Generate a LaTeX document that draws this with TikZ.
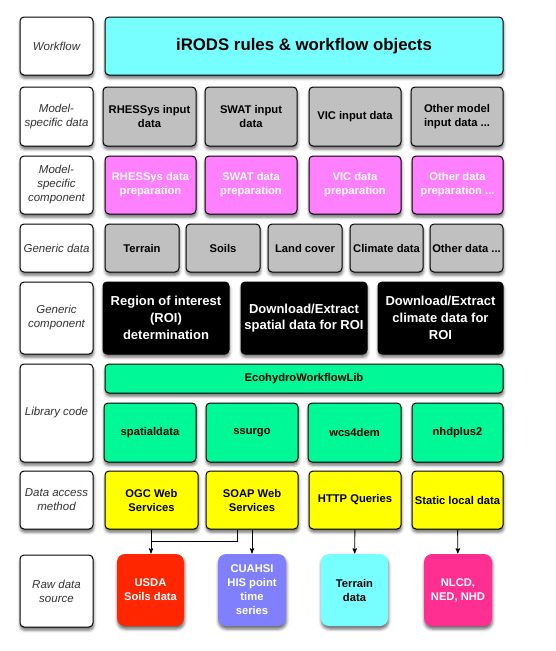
\documentclass[tikz,border=0pt]{standalone}
\usepackage{fontspec}
\setmainfont{Liberation Sans}
\usepackage{tikz}
\usetikzlibrary{arrows, positioning, shadows.blur}
\definecolor{colorWorkflow}{HTML}{77FFFF}
\definecolor{colorModelData}{HTML}{C0C0C0}
\definecolor{colorModelComp}{HTML}{FF80FF}
\definecolor{colorLibrary}{HTML}{00F996}
\definecolor{colorAccess}{HTML}{FFFF00}
\definecolor{colorUSDA}{HTML}{FF2600}
\definecolor{colorCUAHSI}{HTML}{8080FF}
\definecolor{colorTerrain}{HTML}{77FFFF}
\definecolor{colorNLCD}{HTML}{FF2F92}

\begin{document}
\begin{tikzpicture}[x=1pt, y=-1pt, >=stealth', thick, cellbox/.style={draw, rounded corners=4pt, line width=1pt, align=center, inner sep=2pt, font=\bfseries\fontsize{11.2}{14}\selectfont, blur shadow={shadow xshift=0.5pt, shadow yshift=-3pt, shadow blur radius=3pt, shadow opacity=60}}, rowlabel/.style={cellbox, fill=white, minimum width=73pt, font=\itshape\fontsize{11.5}{14}\selectfont, text=black!80}, bigbox/.style={cellbox, text=white, font=\bfseries\fontsize{13}{16.7}\selectfont}, sourcebox/.style={cellbox, draw=none, rounded corners=8pt, minimum width=67pt, minimum height=72pt}, link/.style={line width=0.9pt}]
\useasboundingbox (0,0) rectangle (556,651);
\node[rowlabel, minimum height=58pt] (lworkflow) at (56.5,46) {Workflow};
\node[rowlabel, minimum height=59pt] (lmodeldata) at (56.5,116.5) {Model-\\specific data};
\node[rowlabel, minimum height=58pt] (lmodelcomp) at (56.5,185) {Model-\\specific\\component};
\node[rowlabel, minimum height=48pt] (lgenericdata) at (56.5,248) {Generic data};
\node[rowlabel, minimum height=72pt] (lgenericcomp) at (56.5,318) {Generic\\component};
\node[rowlabel, minimum height=98pt] (llibrary) at (56.5,413) {Library code};
\node[rowlabel, minimum height=58pt] (laccess) at (56.5,500) {Data access\\method};
\node[rowlabel, minimum height=72pt] (lsource) at (56.5,591) {Raw data\\source};
\node[cellbox, fill=colorWorkflow, minimum width=398pt, minimum height=58pt, font=\bfseries\fontsize{16.8}{20}\selectfont] (irods) at (304,46) {iRODS rules \& workflow objects};
\node[cellbox, fill=colorModelData, minimum width=93pt, minimum height=59pt] (rhessysin) at (149.5,116.5) {RHESSys input\\data};
\node[cellbox, fill=colorModelData, minimum width=92pt, minimum height=59pt] (swatin) at (251,116.5) {SWAT input\\data};
\node[cellbox, fill=colorModelData, minimum width=92pt, minimum height=59pt] (vicin) at (355,116.5) {VIC input data};
\node[cellbox, fill=colorModelData, minimum width=92pt, minimum height=59pt] (otherin) at (457,116.5) {Other model\\input data ...};
\node[cellbox, fill=colorModelComp, text=white, minimum width=91pt, minimum height=58pt] (rhessysprep) at (150.5,185) {RHESSys data\\preparation};
\node[cellbox, fill=colorModelComp, text=white, minimum width=92pt, minimum height=58pt] (swatprep) at (251,185) {SWAT data\\preparation};
\node[cellbox, fill=colorModelComp, text=white, minimum width=92pt, minimum height=58pt] (vicprep) at (355,185) {VIC data\\preparation};
\node[cellbox, fill=colorModelComp, text=white, minimum width=91pt, minimum height=58pt] (otherprep) at (457.5,185) {Other data\\preparation ...};
\node[cellbox, fill=colorModelData, minimum width=74pt, minimum height=48pt] (terrain) at (142,248) {Terrain};
\node[cellbox, fill=colorModelData, minimum width=74pt, minimum height=48pt] (soils) at (223,248) {Soils};
\node[cellbox, fill=colorModelData, minimum width=74pt, minimum height=48pt] (landcover) at (305,248) {Land cover};
\node[cellbox, fill=colorModelData, minimum width=73pt, minimum height=48pt] (climate) at (386.5,248) {Climate data};
\node[cellbox, fill=colorModelData, minimum width=73pt, minimum height=48pt] (otherdata) at (466.5,248) {Other data ...};
\node[bigbox, fill=black, minimum width=126pt, minimum height=72pt] (roi) at (166,318) {Region of interest\\(ROI)\\determination};
\node[bigbox, fill=black, minimum width=126pt, minimum height=72pt] (spatialdl) at (304,318) {Download/Extract\\spatial data for ROI};
\node[bigbox, fill=black, minimum width=125pt, minimum height=72pt] (climatedl) at (440.5,318) {Download/Extract\\climate data for\\ROI};
\node[cellbox, fill=colorLibrary, minimum width=398pt, minimum height=29pt] (ecolib) at (304,378.5) {EcohydroWorkflowLib};
\node[cellbox, fill=colorLibrary, minimum width=92pt, minimum height=59pt] (spatialdata) at (150,432.5) {spatialdata};
\node[cellbox, fill=colorLibrary, minimum width=92pt, minimum height=59pt] (ssurgo) at (252,432.5) {ssurgo};
\node[cellbox, fill=colorLibrary, minimum width=93pt, minimum height=59pt] (wcs4dem) at (354.5,432.5) {wcs4dem};
\node[cellbox, fill=colorLibrary, minimum width=91pt, minimum height=59pt] (nhdplus2) at (457.5,432.5) {nhdplus2};
\node[cellbox, fill=colorAccess, minimum width=93pt, minimum height=58pt] (ogc) at (151.5,500) {OGC Web\\Services};
\node[cellbox, fill=colorAccess, minimum width=92pt, minimum height=58pt] (soap) at (252,500) {SOAP Web\\Services};
\node[cellbox, fill=colorAccess, minimum width=92pt, minimum height=58pt] (http) at (355,500) {HTTP Queries};
\node[cellbox, fill=colorAccess, minimum width=91pt, minimum height=58pt] (static) at (457.5,500) {Static local data};
\node[sourcebox, fill=colorUSDA, text=white] (usda) at (150.5,590) {USDA\\Soils data};
\node[sourcebox, fill=colorCUAHSI, text=white, minimum width=68pt] (cuahsi) at (252,590) {CUAHSI\\HIS point\\time\\series};
\node[sourcebox, fill=colorTerrain] (terraindata) at (354.5,590) {Terrain\\data};
\node[sourcebox, fill=colorNLCD, text=white, minimum width=68pt] (nlcd) at (458,590) {NLCD,\\NED, NHD};
\coordinate (merge) at (151,541);
\draw [->, link] (ogc.south -| merge) -- (merge |- usda.north);
\draw [link] ([xshift=-15pt]soap.south) |- (merge);
\draw [->, link] (soap) -- (cuahsi);
\draw [->, link] (http) -- (terraindata);
\draw [->, link] (static) -- (nlcd);
\end{tikzpicture}
\end{document}
